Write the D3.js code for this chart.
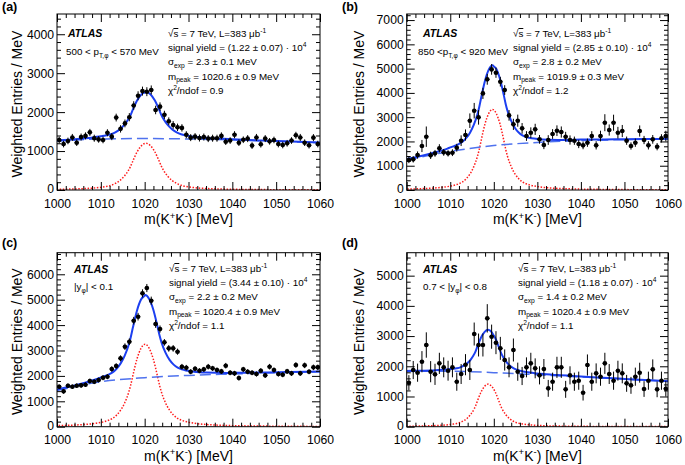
<!DOCTYPE html>
<html><head><meta charset="utf-8">
<script src="https://cdn.jsdelivr.net/npm/d3@7"></script>
<style>
body{margin:0;background:#fff}
svg{display:block}
text{font-family:"Liberation Sans",Arial,Helvetica,sans-serif}
</style>
</head><body>
<svg id="chart" width="685" height="465"></svg>
<script>
// ---------- data ----------
const binCenters = d3.range(1000.5, 1060, 1);   // 1 MeV bins
const xTicks = [1000, 1010, 1020, 1030, 1040, 1050, 1060];
const yTicksA = [0, 1000, 2000, 3000, 4000];
const yTicksB = [0, 1000, 2000, 3000, 4000, 5000, 6000, 7000];
const yTicksC = [0, 1000, 2000, 3000, 4000, 5000, 6000];
const yTicksD = [0, 1000, 2000, 3000, 4000, 5000];

const countsA = [1285,1180,1260,1350,1215,1360,1390,1480,1330,1300,
                 1285,1470,1370,1860,1570,1710,1870,2170,2420,2540,
                 2525,2570,2055,2140,1930,1765,1670,1610,1595,1420,
                 1345,1370,1335,1360,1320,1330,1330,1390,1240,1270,
                 1420,1215,1290,1320,1140,1350,1175,1320,1250,1285,
                 1180,1155,1200,1270,1405,1350,1215,1150,1345,1180];
const errA = [85,85,85,90,85,90,90,90,90,85,
              85,90,90,100,95,100,105,110,115,115,
              115,115,110,110,105,100,100,95,95,90,
              90,90,90,90,90,90,90,90,85,85,
              90,85,85,90,85,90,85,90,85,85,
              85,85,85,85,90,90,85,85,90,85];

const countsB = [1235,1263,1441,1812,2196,1427,1510,1716,1551,1510,
                 1537,1743,2031,2265,2855,3267,2992,3980,4557,4968,
                 4831,4461,4117,3074,2704,2855,2539,2223,2361,2498,
                 2086,1853,2059,2306,2443,2388,2196,2059,2031,1894,
                 1839,1949,2223,1839,2223,2772,2470,2772,2361,2429,
                 2031,1812,1949,2429,2059,1839,2086,1784,2127,2223];
const errB = [130,130,150,250,420,150,140,170,140,130,
              140,160,220,230,300,320,300,230,220,220,
              210,200,200,220,230,250,220,200,220,230,
              180,170,200,200,220,230,200,190,170,170,
              160,170,200,170,220,350,230,330,240,250,
              170,150,170,230,170,170,180,150,170,220];

const countsC = [1575,1391,1614,1575,1614,1627,1654,1798,1772,1837,
                 1929,1969,2270,2388,2690,3150,3346,4173,4331,5249,
                 5459,4961,4042,3845,3320,3084,3084,2953,2362,2323,
                 2165,2283,2205,2257,2362,2297,2231,2178,2402,2126,
                 2100,1916,2257,2165,2126,2073,2205,2021,2362,2231,
                 2073,2047,2178,2100,2428,2100,2415,2165,2336,2336];
const errC = [90,90,90,90,90,90,90,95,95,95,
              100,100,110,110,120,130,130,150,150,160,
              160,160,150,140,130,130,130,120,110,110,
              100,100,100,100,110,100,100,100,110,100,
              100,100,100,100,100,100,100,100,110,100,
              100,100,100,100,110,100,110,100,110,110];

const countsD = [1457,1876,1788,2152,2704,1821,1733,2097,1965,1854,
                 1965,1490,1744,2053,1876,3068,2704,2704,3587,2980,
                 2781,2594,2208,1965,2539,1821,1678,1965,2097,1932,
                 1700,1910,1269,1490,1965,1965,1236,1700,1490,1523,
                 1126,2042,1490,1766,1656,2097,1744,1523,1854,1766,
                 1435,1369,1656,1788,1247,1523,1898,1236,1523,1258];
const errD = [250,300,300,350,420,350,350,350,330,330,
              330,300,330,350,330,380,380,380,470,400,
              380,380,350,330,380,300,300,330,350,330,
              300,330,280,300,350,350,280,300,300,300,
              260,350,300,330,300,350,330,300,330,330,
              280,280,300,330,260,300,330,260,300,260];

// background fit (dashed) read at these masses
const bgX = [1000, 1010, 1020, 1030, 1040, 1050, 1060];
const bgA = [1255, 1310, 1322, 1310, 1285, 1250, 1215];
const bgB = [1230, 1590, 1830, 1960, 2035, 2075, 2100];
const bgC = [1420, 1770, 1930, 2020, 2075, 2125, 2165];
const bgD = [1830, 1835, 1790, 1720, 1650, 1575, 1505];

// signal peak shape (red dotted): fraction of peak height vs distance from peak (MeV, panel a width)
const shapeDist = [0, 1, 2, 3, 3.55, 4, 5, 6, 7, 8, 9, 10, 12, 15, 20, 30, 45, 60];
const shapeFrac = [1, 0.95, 0.82, 0.62, 0.5, 0.42, 0.29, 0.2, 0.14, 0.1, 0.077, 0.062, 0.042, 0.027, 0.015, 0.007, 0.003, 0.0015];
// per panel: peak position, peak height, width relative to panel a
const sigPeak   = [1020.3, 1019.7, 1020.1, 1018.7];
const sigHeight = [1200, 3320, 3250, 1410];
const sigWidth  = [1.0, 0.86, 0.93, 0.80];

// text
const panelLetters = ["(a)", "(b)", "(c)", "(d)"];
const yields = ["(1.22 ± 0.07) · 10", "(2.85 ± 0.10) · 10", "(3.44 ± 0.10) · 10", "(1.18 ± 0.07) · 10"];
const sigmas = ["2.3 ± 0.1", "2.8 ± 0.2", "2.2 ± 0.2", "1.4 ± 0.2"];
const mpeaks = ["1020.6 ± 0.9", "1019.9 ± 0.3", "1020.4 ± 0.9", "1020.4 ± 0.9"];
const chis = ["0.9", "1.2", "1.1", "1.1"];
const cuts = [
  [["500 < p", null], ["T,φ", "sub"], [" < 570 MeV", null]],
  [["850 <p", null], ["T,φ", "sub"], [" < 920 MeV", null]],
  [["|y", null], ["φ", "sub"], ["| < 0.1", null]],
  [["0.7 < |y", null], ["φ", "sub"], ["| < 0.8", null]]
];

// ---------- layout ----------
const layout = [
  {x0:57,    x1:320, y0:14,    y1:190,   yMax:4520, letterX:2,   letterY:11,  titleX:22,  atlasX:68,  atlasY:37,    cutX:66,  cutY:55,  infoX:168, infoY:37},
  {x0:406.7, x1:668, y0:14,    y1:190,   yMax:7250, letterX:342, letterY:11,  titleX:364, atlasX:423, atlasY:37,    cutX:418, cutY:55,  infoX:513, infoY:37},
  {x0:57,    x1:320, y0:252.7, y1:426.7, yMax:6850, letterX:2,   letterY:247, titleX:22,  atlasX:74,  atlasY:272.7, cutX:74,  cutY:290, infoX:169, infoY:272},
  {x0:406.7, x1:668, y0:252.7, y1:426.7, yMax:5760, letterX:342, letterY:247, titleX:364, atlasX:423, atlasY:272.7, cutX:423, cutY:290, infoX:518, infoY:272}
];
const countsAll = [countsA, countsB, countsC, countsD];
const errAll = [errA, errB, errC, errD];
const bgAll = [bgA, bgB, bgC, bgD];
const yTicksAll = [yTicksA, yTicksB, yTicksC, yTicksD];

const svg = d3.select("#chart");
const FONT = '"Liberation Sans",Arial,Helvetica,sans-serif';

function rich(textSel, segs, size) {
  let shift = 0;
  segs.forEach(([t, mode]) => {
    const target = mode === "sup" ? -0.38 * size : mode === "sub" ? 0.28 * size : 0;
    const ts = textSel.append("tspan").attr("dy", target - shift)
      .attr("font-size", (mode === "sup" || mode === "sub") ? size * 0.68 : size).text(t);
    if (mode === "over") ts.style("text-decoration", "overline");
    shift = target;
  });
}

layout.forEach((L, i) => {
  const g = svg.append("g");
  const x = d3.scaleLinear().domain([1000, 1060]).range([L.x0, L.x1]);
  const y = d3.scaleLinear().domain([0, L.yMax]).range([L.y1, L.y0]);

  const clipId = "clip" + i;
  svg.append("clipPath").attr("id", clipId).append("rect")
    .attr("x", L.x0).attr("y", L.y0).attr("width", L.x1 - L.x0).attr("height", L.y1 - L.y0);

  // ----- curves -----
  const offs = [...shapeDist.slice(1).map(d => -d).reverse(), ...shapeDist];
  const fr = [...shapeFrac.slice(1).reverse(), ...shapeFrac];
  const sigX = offs.map(d => sigPeak[i] + d * sigWidth[i]);
  const sigV = fr.map(f => f * sigHeight[i]);
  const sigScale = d3.scaleLinear().domain(sigX).range(sigV).clamp(true);
  const bgScale = d3.scaleLinear().domain(bgX).range(bgAll[i]);
  const totX = Array.from(new Set([...sigX, ...bgX])).filter(v => v >= 995 && v <= 1065).sort((a, b) => a - b);

  const cg = g.append("g").attr("clip-path", `url(#${clipId})`);
  const line = d3.line().x(d => x(d[0])).y(d => y(d[1])).curve(d3.curveMonotoneX);

  cg.append("path").datum(sigX.map((v, k) => [v, sigV[k]]))
    .attr("d", line).attr("fill", "none").attr("stroke", "#ff1a1a")
    .attr("stroke-width", 1.5).attr("stroke-dasharray", "1.5,1.6");
  cg.append("path").datum(bgX.map((v, k) => [v, bgAll[i][k]]))
    .attr("d", line).attr("fill", "none").attr("stroke", "#4f72ee")
    .attr("stroke-width", 1.5).attr("stroke-dasharray", "11,5");
  cg.append("path").datum(totX.map(v => [v, sigScale(v) + bgScale(v)]))
    .attr("d", line).attr("fill", "none").attr("stroke", "#1c3ff0")
    .attr("stroke-width", 2);

  // ----- data points -----
  const pts = cg.append("g");
  binCenters.forEach((c, k) => {
    const v = countsAll[i][k], e = errAll[i][k];
    pts.append("line").attr("x1", x(c)).attr("x2", x(c))
      .attr("y1", y(v - e)).attr("y2", y(v + e)).attr("stroke", "#000").attr("stroke-width", 1);
    pts.append("line").attr("x1", x(c - 0.5)).attr("x2", x(c + 0.5))
      .attr("y1", y(v)).attr("y2", y(v)).attr("stroke", "#000").attr("stroke-width", 1);
    pts.append("circle").attr("cx", x(c)).attr("cy", y(v)).attr("r", 2.3).attr("fill", "#000");
  });

  // ----- axes -----
  const yMinor = d3.range(0, L.yMax, 200).filter(v => v % 1000 !== 0);
  const xMinor = d3.range(1000, 1061, 2).filter(v => v % 10 !== 0);
  function styleAxis(a) {
    a.select(".domain").remove();
    a.selectAll("line").attr("stroke", "#000");
    a.attr("font-family", FONT).attr("font-size", 12.2);
    a.selectAll("text").attr("fill", "#000");
  }
  styleAxis(g.append("g").attr("transform", `translate(${L.x0},0)`)
    .call(d3.axisLeft(y).tickValues(yTicksAll[i]).tickSize(-8).tickPadding(3).tickFormat(d3.format("d"))));
  g.selectAll(".tick text").filter(d => d === 0).attr("dy", "0.2em");
  styleAxis(g.append("g").attr("transform", `translate(${L.x0},0)`)
    .call(d3.axisLeft(y).tickValues(yMinor).tickSize(-4).tickFormat("")));
  styleAxis(g.append("g").attr("transform", `translate(${L.x1},0)`)
    .call(d3.axisRight(y).tickValues(yTicksAll[i]).tickSize(-8).tickFormat("")));
  styleAxis(g.append("g").attr("transform", `translate(${L.x1},0)`)
    .call(d3.axisRight(y).tickValues(yMinor).tickSize(-4).tickFormat("")));
  styleAxis(g.append("g").attr("transform", `translate(0,${L.y1})`)
    .call(d3.axisBottom(x).tickValues(xTicks).tickSize(-8).tickPadding(9).tickFormat(d3.format("d"))));
  styleAxis(g.append("g").attr("transform", `translate(0,${L.y1})`)
    .call(d3.axisBottom(x).tickValues(xMinor).tickSize(-4).tickFormat("")));
  styleAxis(g.append("g").attr("transform", `translate(0,${L.y0})`)
    .call(d3.axisTop(x).tickValues(xTicks).tickSize(-8).tickFormat("")));
  styleAxis(g.append("g").attr("transform", `translate(0,${L.y0})`)
    .call(d3.axisTop(x).tickValues(xMinor).tickSize(-4).tickFormat("")));

  g.append("rect").attr("x", L.x0).attr("y", L.y0)
    .attr("width", L.x1 - L.x0).attr("height", L.y1 - L.y0)
    .attr("fill", "none").attr("stroke", "#000").attr("stroke-width", 1);

  // ----- titles -----
  g.append("text").attr("x", L.letterX).attr("y", L.letterY)
    .attr("font-family", '"Liberation Serif","Times New Roman",serif')
    .attr("font-weight", "bold").attr("font-size", 12.5).text(panelLetters[i]);

  const xt = g.append("text").attr("x", (L.x0 + L.x1) / 2).attr("y", L.y1 + 34)
    .attr("text-anchor", "middle").attr("font-size", 14);
  rich(xt, [["m(K", null], ["+", "sup"], ["K", null], ["-", "sup"], [") [MeV]", null]], 14);

  g.append("text").attr("transform", `translate(${L.titleX},${(L.y0 + L.y1) / 2 + 2}) rotate(-90)`)
    .attr("text-anchor", "middle").attr("font-size", 14).text("Weighted Entries / MeV");

  // ----- inner texts -----
  g.append("text").attr("x", L.atlasX).attr("y", L.atlasY)
    .attr("font-weight", "bold").attr("font-style", "italic").attr("font-size", 10.5).text("ATLAS");
  const fs = 9.8, lh = 14.2;
  rich(g.append("text").attr("x", L.cutX).attr("y", L.cutY).attr("font-size", fs), cuts[i], fs);

  rich(g.append("text").attr("x", L.infoX).attr("y", L.infoY).attr("font-size", fs),
    [["√", null], ["s", "over"], [" = 7 TeV, L=383 μb", null], ["-1", "sup"]], fs);
  rich(g.append("text").attr("x", L.infoX).attr("y", L.infoY + lh).attr("font-size", fs),
    [["signal yield = " + yields[i], null], ["4", "sup"]], fs);
  rich(g.append("text").attr("x", L.infoX).attr("y", L.infoY + 2 * lh).attr("font-size", fs),
    [["σ", null], ["exp", "sub"], [" = " + sigmas[i] + " MeV", null]], fs);
  rich(g.append("text").attr("x", L.infoX).attr("y", L.infoY + 3 * lh).attr("font-size", fs),
    [["m", null], ["peak", "sub"], [" = " + mpeaks[i] + " MeV", null]], fs);
  rich(g.append("text").attr("x", L.infoX).attr("y", L.infoY + 4 * lh).attr("font-size", fs),
    [["χ", null], ["2", "sup"], ["/ndof = " + chis[i], null]], fs);
});
</script>
</body></html>
